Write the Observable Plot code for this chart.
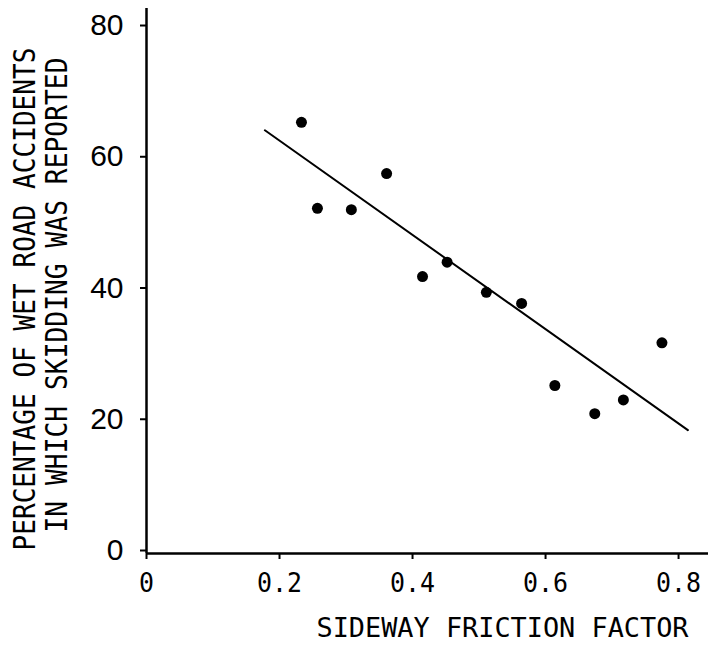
<!DOCTYPE html>
<html>
<head>
<meta charset="utf-8">
<script src="https://cdn.jsdelivr.net/npm/d3@7"></script>
<script src="https://cdn.jsdelivr.net/npm/@observablehq/plot@0.6"></script>
<style>
  html, body { margin: 0; padding: 0; background: #fff; }
  #chart svg { display: block; }
</style>
</head>
<body>
<div id="chart"></div>
<script>
// Data
const friction = [0.233, 0.257, 0.308, 0.361, 0.415, 0.452, 0.511, 0.564, 0.614, 0.674, 0.717, 0.775];
const skidPct  = [65.7, 52.6, 52.4, 57.9, 42.2, 44.4, 39.8, 38.1, 25.6, 21.3, 23.4, 32.1];
const fitX = [0.178, 0.814];
const fitY = [64.5, 18.8];
const xTicks = [0, 0.2, 0.4, 0.6, 0.8];
const yTicks = [0, 20, 40, 60, 80];
const xTitle = "SIDEWAY FRICTION FACTOR";
const yTitle1 = "PERCENTAGE OF WET ROAD ACCIDENTS";
const yTitle2 = "IN WHICH SKIDDING WAS REPORTED";

const points = friction.map((x, i) => ({x, y: skidPct[i]}));
const fit = fitX.map((x, i) => ({x, y: fitY[i]}));

const mono = "DejaVu Sans Mono";

const chart = Plot.plot({
  width: 708,
  height: 647,
  marginLeft: 146,
  marginRight: 0,
  marginTop: 8,
  marginBottom: 94,
  style: {background: "#fff", color: "#000"},
  x: {domain: [0, 0.845]},
  y: {domain: [0, 83.05]},
  marks: [
    Plot.axisX({ticks: xTicks, tickSize: 6, tickPadding: 13, strokeWidth: 2,
      fontSize: 27, fontFamily: mono, label: null,
      tickFormat: d => d === 0 ? "0" : String(d)}),
    Plot.axisY({ticks: yTicks, tickSize: 6, tickPadding: 17, strokeWidth: 2,
      fontSize: 30, fontFamily: "Liberation Sans", dy: -3, label: null}),
    Plot.ruleX([0], {strokeWidth: 2.5}),
    Plot.ruleY([0], {strokeWidth: 2.5}),
    Plot.line(fit, {x: "x", y: "y", stroke: "#000", strokeWidth: 2}),
    Plot.dot(points, {x: "x", y: "y", r: 5.5, fill: "#000", stroke: "none"}),
    Plot.text([xTitle], {frameAnchor: "bottom", dx: 75, dy: 75, lineAnchor: "middle", textAnchor: "middle",
      fontSize: 27, fontFamily: mono, fill: "#000"}),
    Plot.text([yTitle1], {frameAnchor: "left", dx: -121.5, dy: 18, rotate: -90, lineAnchor: "middle", textAnchor: "middle",
      fontSize: 30, fontFamily: mono, fill: "#000"}),
    Plot.text([yTitle2], {frameAnchor: "left", dx: -89, dy: 14, rotate: -90, lineAnchor: "middle", textAnchor: "middle",
      fontSize: 30, fontFamily: mono, fill: "#000"})
  ]
});

document.getElementById("chart").append(chart);

// Condense the typewriter-style lettering to the widths seen in the picture
const widths = new Map([[xTitle, 372], [yTitle1, 503], [yTitle2, 475]]);
d3.select(chart).selectAll("text").each(function() {
  const t = this.textContent;
  if (widths.has(t)) {
    this.setAttribute("textLength", widths.get(t));
    this.setAttribute("lengthAdjust", "spacingAndGlyphs");
  }
});
d3.select(chart).selectAll('g[aria-label="x-axis tick label"] text').each(function() {
  const t = this.textContent;
  this.setAttribute("textLength", 15 * t.length);
  this.setAttribute("lengthAdjust", "spacingAndGlyphs");
});
</script>
</body>
</html>
